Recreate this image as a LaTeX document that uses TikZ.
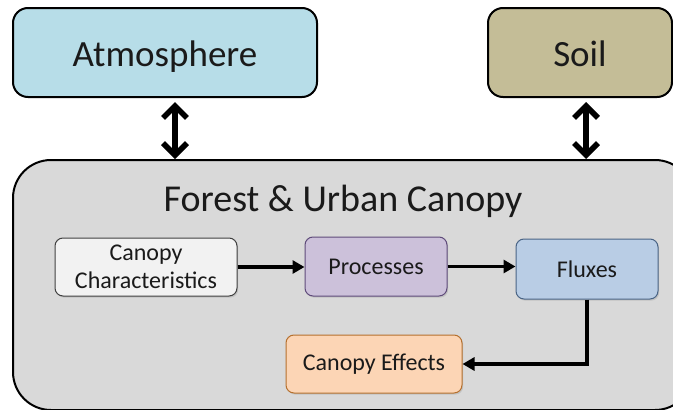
\documentclass[tikz,border=0pt]{standalone}
\usepackage{fontspec}
\setmainfont{Carlito}
\usetikzlibrary{arrows.meta,shadows,calc}

\definecolor{atmfill}{HTML}{B7DDE8}
\definecolor{soilfill}{HTML}{C4BD97}
\definecolor{canopyfill}{HTML}{D9D9D9}
\definecolor{charfill}{HTML}{F2F2F2}
\definecolor{procfill}{HTML}{CCC1DA}
\definecolor{procline}{HTML}{5F4B7A}
\definecolor{fluxfill}{HTML}{B9CDE5}
\definecolor{fluxline}{HTML}{4A6485}
\definecolor{efffill}{HTML}{FCD5B5}
\definecolor{effline}{HTML}{B5702E}
\definecolor{txt}{HTML}{1A1A1A}

\tikzset{
  bigbox/.style={draw=black, line width=2pt, rounded corners=15pt,
    text=txt, font=\fontsize{37}{40}\selectfont, inner sep=0pt,
    text height=30pt, text depth=3pt},
  stepbox/.style={draw=#1, line width=1pt, rounded corners=8pt,
    text=txt, font=\fontsize{24}{28.5}\selectfont, align=center, inner sep=0pt,
    drop shadow={shadow xshift=1.2pt, shadow yshift=-1.6pt, opacity=0.25}},
  flow/.style={line width=3.6pt, -{Triangle[length=12pt,width=13pt]}},
  dbl/.style={line width=5.5pt, {Straight Barb[length=12pt,width=24pt]}-{Straight Barb[length=12pt,width=24pt]}}
}

\begin{document}
\begin{tikzpicture}[x=1pt,y=-1pt]
  \useasboundingbox (0,0) rectangle (673,410);
  \clip (0,0) rectangle (673,410);

  % outer compartments
  \node[bigbox, fill=atmfill, minimum width=304pt, minimum height=89pt] (atm) at (165,52.5) {Atmosphere};
  \node[bigbox, fill=soilfill, minimum width=184pt, minimum height=89pt] (soil) at (580,52.5) {Soil};

  % canopy container, running past the right and bottom edges
  \node[draw=black, line width=2pt, fill=canopyfill, rounded corners=38pt,
        minimum width=680pt, minimum height=250pt, inner sep=0pt] (canopy) at (353,285) {};
  \node[text=txt, font=\fontsize{38}{40}\selectfont, inner sep=0pt] (title) at (343,201) {Forest \& Urban Canopy};

  % exchange arrows
  \draw[dbl] ([xshift=10pt,yshift=-4pt]atm.south) -- ([xshift=10pt]atm.south |- canopy.north);
  \draw[dbl] ([xshift=6pt,yshift=-4pt]soil.south) -- ([xshift=6pt]soil.south |- canopy.north);

  % inner process chain
  \node[stepbox=black!75, fill=charfill, minimum width=182pt, minimum height=58pt] (char) at (146,267) {Canopy\\Characteristics};
  \node[stepbox=procline, fill=procfill, minimum width=142pt, minimum height=59pt] (proc) at (376,266.5) {Processes};
  \node[stepbox=fluxline, fill=fluxfill, minimum width=142pt, minimum height=60pt] (flux) at (587,269) {Fluxes};
  \node[stepbox=effline, fill=efffill, minimum width=176pt, minimum height=58pt] (eff) at (374,364) {Canopy Effects};

  \draw[flow] (char.east) -- (char.east -| proc.west);
  \draw[flow] (proc.east) -- (proc.east -| flux.west);
  \draw[flow] (flux.south) |- (eff.east);
\end{tikzpicture}
\end{document}
